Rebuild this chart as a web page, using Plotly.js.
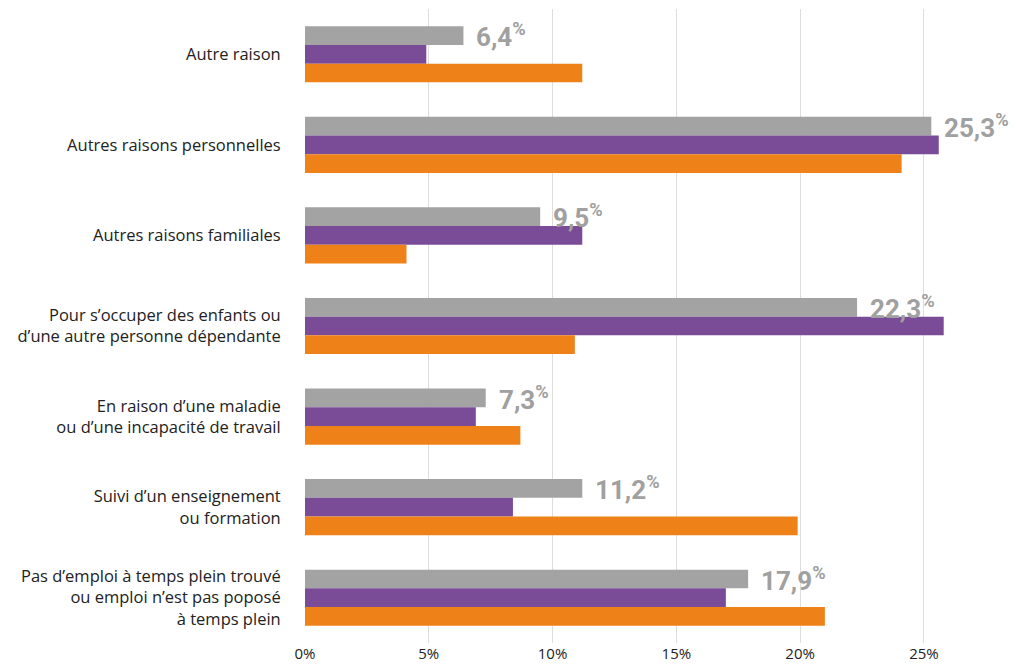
<!DOCTYPE html>
<html><head><meta charset="utf-8">
<script src="https://cdn.plot.ly/plotly-3.0.1.min.js"></script>
<style>html,body{margin:0;padding:0;background:#fff}#chart{width:1016px;height:669px}</style>
</head><body><div id="chart"></div>
<script>
const categories = [
  "Autre raison",
  "Autres raisons personnelles",
  "Autres raisons familiales",
  "Pour s’occuper des enfants ou<br>d’une autre personne dépendante",
  "En raison d’une maladie<br>ou d’une incapacité de travail",
  "Suivi d’un enseignement<br>ou formation",
  "Pas d’emploi à temps plein trouvé<br>ou emploi n’est pas poposé<br>à temps plein"
];
const grayValues = [6.4, 25.3, 9.5, 22.3, 7.3, 11.2, 17.9];
const purpleValues = [4.9, 25.6, 11.2, 25.8, 6.9, 8.4, 17.0];
const orangeValues = [11.2, 24.1, 4.1, 10.9, 8.7, 19.9, 21.0];
const grayLabels = ["6,4", "25,3", "9,5", "22,3", "7,3", "11,2", "17,9"];
const tickValues = [0, 5, 10, 15, 20, 25];
const tickLabels = ["0%", "5%", "10%", "15%", "20%", "25%"];

const traces = [
  {type:'bar', orientation:'h', y:categories, x:grayValues, marker:{color:'#a3a3a3'}, hoverinfo:'skip'},
  {type:'bar', orientation:'h', y:categories, x:purpleValues, marker:{color:'#7a4c98'}, hoverinfo:'skip'},
  {type:'bar', orientation:'h', y:categories, x:orangeValues, marker:{color:'#ef8119'}, hoverinfo:'skip'}
];

const annotations = categories.map((c,i)=>({
  x: grayValues[i], y: c, xref:'x', yref:'y',
  text: '<b>'+grayLabels[i]+'<sup>%</sup></b>',
  showarrow:false, xanchor:'left', yanchor:'middle',
  xshift: 11, yshift: 19,
  font:{family:'Roboto, sans-serif', size:26, color:'#a0a0a0'}
}));

const layout = {
  width:1016, height:669,
  margin:{l:305, r:0, t:9, b:26},
  paper_bgcolor:'#fff', plot_bgcolor:'#fff',
  barmode:'group', bargap:0.38, bargroupgap:0,
  showlegend:false,
  font:{family:'"Open Sans", sans-serif', color:'#222'},
  xaxis:{range:[0,28.72], tickmode:'array', tickvals:tickValues, ticktext:tickLabels,
         showgrid:true, gridcolor:'#dddddd', gridwidth:1, zeroline:false,
         ticks:'', tickfont:{size:15, color:'#222'}, fixedrange:true},
  yaxis:{autorange:'reversed', type:'category', showgrid:false, zeroline:false,
         ticks:'outside', ticklen:20, tickcolor:'rgba(0,0,0,0)',
         tickfont:{size:16.5, color:'#222'}, fixedrange:true},
  annotations: annotations
};
Plotly.newPlot('chart', traces, layout, {displayModeBar:false, staticPlot:true});
</script></body></html>
